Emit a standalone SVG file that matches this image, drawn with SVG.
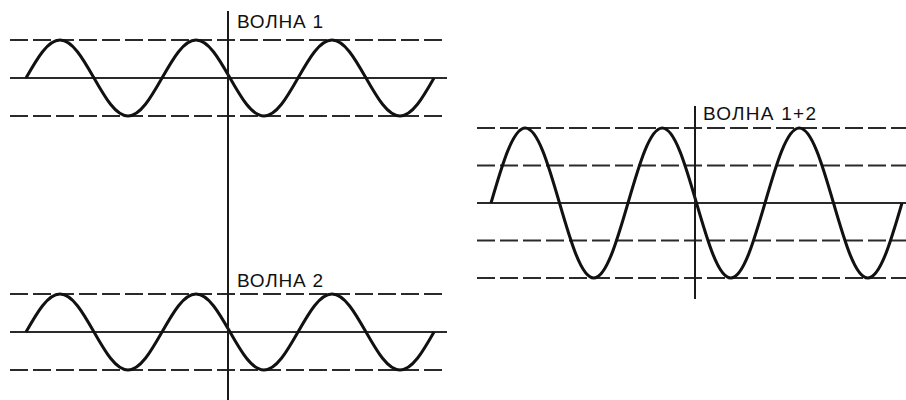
<svg xmlns="http://www.w3.org/2000/svg" width="906" height="400" viewBox="0 0 906 400">
  <style>
    .dash { stroke: #2a2a2a; stroke-width: 2; stroke-dasharray: 18 5; fill: none; }
    .mid { stroke: #2a2a2a; stroke-width: 2; fill: none; }
    .axis { stroke: #1a1a1a; stroke-width: 2; fill: none; }
    .wave { stroke: #111; stroke-width: 3; fill: none; stroke-linejoin: round; }
    .lbl { font-family: "Liberation Sans", Arial, sans-serif; font-size: 19px; fill: #111; }
  </style>
  <rect width="906" height="400" fill="#fff"/>

  <g id="wave1">
    <line class="dash" x1="10" y1="40" x2="447" y2="40"/>
    <line class="mid" x1="10" y1="78" x2="447" y2="78"/>
    <line class="dash" x1="10" y1="116" x2="447" y2="116"/>
    <path class="wave" d="M26,78 c 11.09,-19.47 21.7,-38 34,-38 c 12.3,0 22.91,18.53 34,38 c 11.09,19.47 21.7,38 34,38 c 12.3,0 22.91,-18.53 34,-38 c 11.09,-19.47 21.7,-38 34,-38 c 12.3,0 22.91,18.53 34,38 c 11.09,19.47 21.7,38 34,38 c 12.3,0 22.91,-18.53 34,-38 c 11.09,-19.47 21.7,-38 34,-38 c 12.3,0 22.91,18.53 34,38 c 11.09,19.47 21.7,38 34,38 c 12.3,0 22.91,-18.53 34,-38"/>
    <text class="lbl" x="237" y="28" textLength="86" lengthAdjust="spacing">ВОЛНА 1</text>
  </g>

  <g id="wave2">
    <line class="dash" x1="10" y1="294" x2="447" y2="294"/>
    <line class="mid" x1="10" y1="332" x2="447" y2="332"/>
    <line class="dash" x1="10" y1="370" x2="447" y2="370"/>
    <path class="wave" d="M26,332 c 11.09,-19.47 21.7,-38 34,-38 c 12.3,0 22.91,18.53 34,38 c 11.09,19.47 21.7,38 34,38 c 12.3,0 22.91,-18.53 34,-38 c 11.09,-19.47 21.7,-38 34,-38 c 12.3,0 22.91,18.53 34,38 c 11.09,19.47 21.7,38 34,38 c 12.3,0 22.91,-18.53 34,-38 c 11.09,-19.47 21.7,-38 34,-38 c 12.3,0 22.91,18.53 34,38 c 11.09,19.47 21.7,38 34,38 c 12.3,0 22.91,-18.53 34,-38"/>
    <text class="lbl" x="237" y="287" textLength="86" lengthAdjust="spacing">ВОЛНА 2</text>
  </g>

  <g id="axis-left">
    <line class="axis" x1="228" y1="11" x2="228" y2="400"/>
  </g>

  <g id="wave-sum">
    <line class="dash" x1="477" y1="128" x2="906" y2="128"/>
    <line class="dash" x1="477" y1="165.5" x2="906" y2="165.5"/>
    <line class="mid" x1="477" y1="203" x2="906" y2="203"/>
    <line class="dash" x1="477" y1="240.5" x2="906" y2="240.5"/>
    <line class="dash" x1="477" y1="278" x2="906" y2="278"/>
    <path class="wave" d="M491,203 c 11.17,-38.42 21.85,-75 34.25,-75 c 12.4,0 23.08,36.58 34.25,75 c 11.17,38.42 21.85,75 34.25,75 c 12.4,0 23.08,-36.58 34.25,-75 c 11.17,-38.42 21.85,-75 34.25,-75 c 12.4,0 23.08,36.58 34.25,75 c 11.17,38.42 21.85,75 34.25,75 c 12.4,0 23.08,-36.58 34.25,-75 c 11.17,-38.42 21.85,-75 34.25,-75 c 12.4,0 23.08,36.58 34.25,75 c 11.17,38.42 21.85,75 34.25,75 c 12.4,0 23.08,-36.58 34.25,-75"/>
    <line class="axis" x1="695" y1="106" x2="695" y2="299"/>
    <text class="lbl" x="703" y="120" textLength="113" lengthAdjust="spacing">ВОЛНА 1+2</text>
  </g>
</svg>
